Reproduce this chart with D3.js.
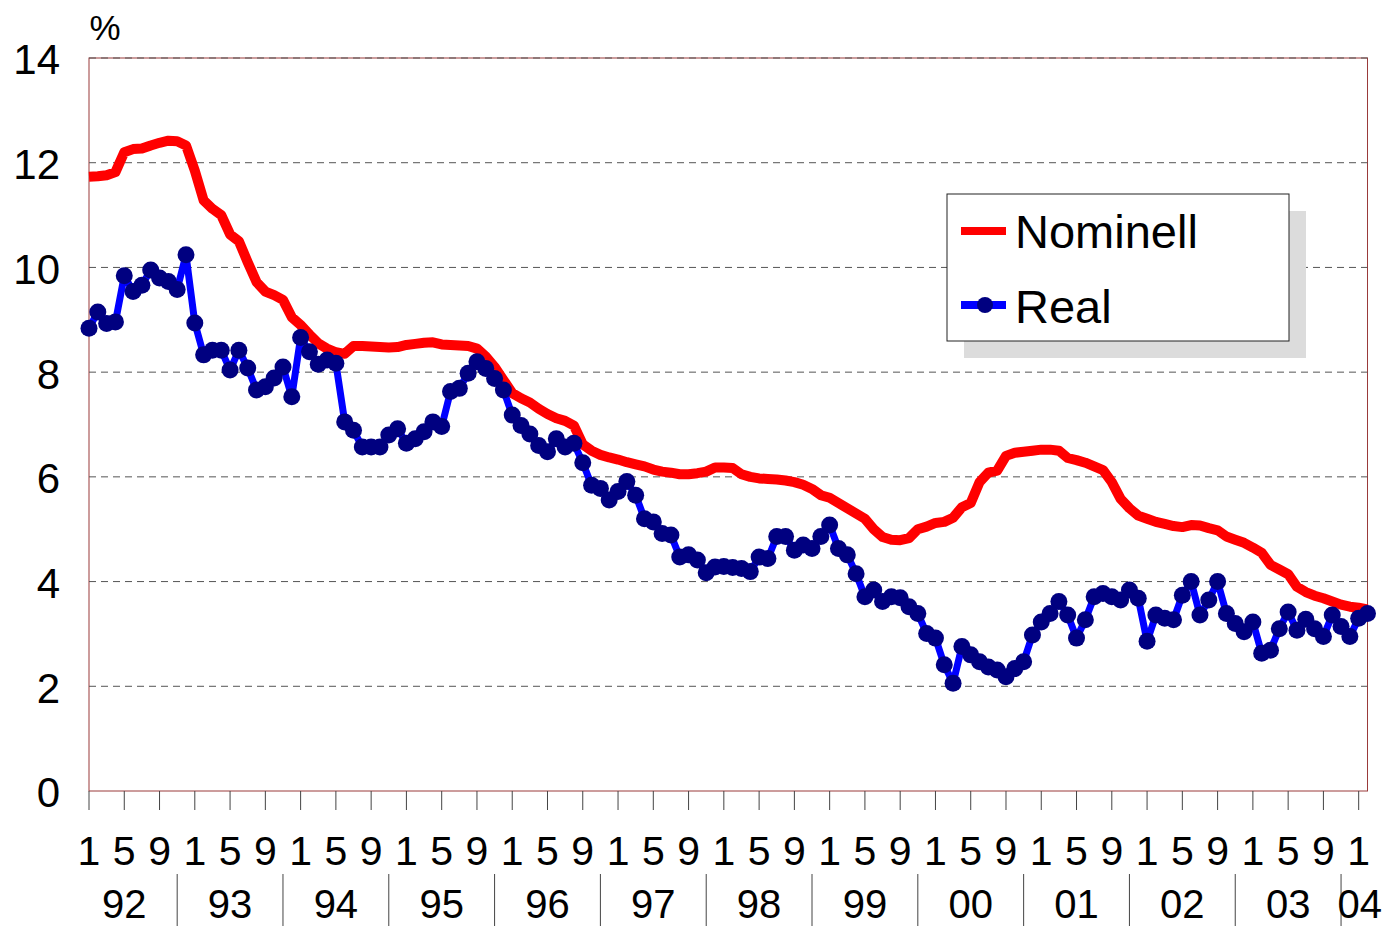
<!DOCTYPE html>
<html>
<head>
<meta charset="utf-8">
<script src="https://cdn.jsdelivr.net/npm/d3@7"></script>
<style>
  body { margin: 0; background: #fff; }
  svg text { font-family: "Liberation Sans", Arial, sans-serif; fill: #000; }
</style>
</head>
<body>
<svg id="chart" width="1386" height="926"></svg>
<script>
// monthly, Jan 1992 .. Feb 2004
const nominell = [
  11.73, 11.74, 11.76, 11.82, 12.2, 12.26, 12.27, 12.33, 12.38, 12.42, 12.41, 12.33,
  11.85, 11.28, 11.12, 11.0, 10.63, 10.5, 10.1, 9.72, 9.54, 9.47, 9.38, 9.05,
  8.9, 8.72, 8.55, 8.45, 8.38, 8.35, 8.5, 8.5, 8.49, 8.48, 8.47, 8.48,
  8.52, 8.54, 8.56, 8.57, 8.53, 8.52, 8.51, 8.5, 8.45, 8.3, 8.1, 7.85,
  7.6, 7.5, 7.42, 7.3, 7.2, 7.12, 7.07, 6.98, 6.62, 6.5, 6.42, 6.37,
  6.33, 6.28, 6.24, 6.2, 6.14, 6.1, 6.08, 6.05, 6.05, 6.07, 6.1, 6.18,
  6.18, 6.17, 6.05, 6.0, 5.97, 5.96, 5.95, 5.93, 5.9, 5.85, 5.77, 5.65,
  5.6, 5.5, 5.4, 5.3, 5.2, 5.0, 4.85, 4.8, 4.79, 4.83, 5.0, 5.05,
  5.12, 5.14, 5.22, 5.42, 5.5, 5.9, 6.08, 6.12, 6.4, 6.46, 6.48, 6.5,
  6.52, 6.52, 6.5, 6.36, 6.32, 6.27, 6.2, 6.13, 5.9, 5.58, 5.4, 5.26,
  5.2, 5.14, 5.1, 5.06, 5.04, 5.08, 5.07, 5.02, 4.98, 4.86, 4.8, 4.74,
  4.65, 4.55, 4.32, 4.23, 4.14, 3.9, 3.8, 3.73, 3.68, 3.62, 3.56, 3.52,
  3.5, 3.47
];
const real = [
  8.84, 9.15, 8.93, 8.96, 9.84, 9.54, 9.66, 9.95, 9.8, 9.73, 9.58, 10.24,
  8.94, 8.33, 8.42, 8.42, 8.04, 8.42, 8.08, 7.66, 7.72, 7.89, 8.1, 7.53,
  8.66, 8.39, 8.15, 8.23, 8.17, 7.05, 6.89, 6.57, 6.57, 6.57, 6.8, 6.92,
  6.64, 6.73, 6.86, 7.05, 6.96, 7.63, 7.69, 7.98, 8.2, 8.07, 7.88, 7.66,
  7.18, 6.98, 6.82, 6.6, 6.48, 6.73, 6.57, 6.64, 6.27, 5.84, 5.78, 5.56,
  5.72, 5.91, 5.65, 5.2, 5.14, 4.92, 4.89, 4.47, 4.51, 4.41, 4.17, 4.28,
  4.29, 4.27, 4.25, 4.19, 4.47, 4.44, 4.86, 4.86, 4.6, 4.7, 4.63, 4.86,
  5.08, 4.63, 4.51, 4.15, 3.71, 3.84, 3.62, 3.71, 3.69, 3.52, 3.39, 3.01,
  2.92, 2.41, 2.06, 2.76, 2.6, 2.47, 2.37, 2.31, 2.18, 2.34, 2.47, 2.98,
  3.23, 3.39, 3.62, 3.36, 2.92, 3.27, 3.71, 3.77, 3.71, 3.65, 3.84, 3.68,
  2.86, 3.36, 3.3, 3.27, 3.74, 4.0, 3.36, 3.65, 4.0, 3.39, 3.2, 3.04,
  3.23, 2.63, 2.69, 3.1, 3.42, 3.07, 3.28, 3.1, 2.95, 3.36, 3.14, 2.95,
  3.3, 3.39
];
const years = ["92", "93", "94", "95", "96", "97", "98", "99", "00", "01", "02", "03", "04"];
const monthLabels = ["1", "5", "9"];
const yTicks = [0, 2, 4, 6, 8, 10, 12, 14];
const seriesNames = ["Nominell", "Real"];

const svg = d3.select("#chart");
const plotLeft = 89, plotRight = 1367.5, plotTop = 58, plotBottom = 791;

const x = d3.scaleLinear().domain([0, nominell.length - 1]).range([plotLeft, plotRight]);
const y = d3.scaleLinear().domain([0, 14]).range([plotBottom, plotTop]);

// plot frame
svg.append("rect")
  .attr("x", plotLeft).attr("y", plotTop)
  .attr("width", plotRight - plotLeft).attr("height", plotBottom - plotTop)
  .attr("fill", "none").attr("stroke", "#9a3a3a").attr("stroke-width", 1);

// dashed grid
svg.append("g").selectAll("line")
  .data(yTicks.filter(d => d > 0))
  .join("line")
  .attr("x1", plotLeft).attr("x2", plotRight)
  .attr("y1", d => y(d)).attr("y2", d => y(d))
  .attr("stroke", "#555").attr("stroke-width", 1)
  .attr("stroke-dasharray", "7,5");

// y axis labels
const yAxis = d3.axisLeft(y).tickValues(yTicks).tickSize(0).tickPadding(29);
svg.append("g")
  .attr("transform", `translate(${plotLeft},0)`)
  .call(yAxis)
  .call(g => g.select(".domain").remove())
  .call(g => g.selectAll("text")
    .style("font-size", "42px")
    .attr("font-family", "Liberation Sans, Arial, sans-serif")
    .attr("dy", "0.38em"));

svg.append("text")
  .attr("x", 105).attr("y", 40)
  .attr("text-anchor", "middle")
  .style("font-size", "35px")
  .text("%");

// x ticks every 4 months
const tickIdx = d3.range(0, nominell.length, 4);
svg.append("g").selectAll("line")
  .data(tickIdx)
  .join("line")
  .attr("x1", d => x(d)).attr("x2", d => x(d))
  .attr("y1", plotBottom).attr("y2", 810)
  .attr("stroke", "#444").attr("stroke-width", 1);

svg.append("g").selectAll("text")
  .data(tickIdx)
  .join("text")
  .attr("x", d => x(d)).attr("y", 865)
  .attr("text-anchor", "middle")
  .style("font-size", "41px")
  .text(d => monthLabels[(d % 12) / 4]);

// year separators and labels
const sepIdx = d3.range(10, nominell.length, 12);
svg.append("g").selectAll("line")
  .data(sepIdx)
  .join("line")
  .attr("x1", d => x(d)).attr("x2", d => x(d))
  .attr("y1", 874).attr("y2", 926)
  .attr("stroke", "#444").attr("stroke-width", 1);

svg.append("g").selectAll("text")
  .data(years)
  .join("text")
  .attr("x", (d, i) => i < years.length - 1 ? x(i * 12 + 4) : x(i * 12) + 1)
  .attr("y", 918)
  .attr("text-anchor", "middle")
  .style("font-size", "40px")
  .text(d => d);

// series
const line = d3.line().x((d, i) => x(i)).y(d => y(d));

svg.append("path")
  .datum(nominell)
  .attr("d", line)
  .attr("fill", "none").attr("stroke", "#ff0000")
  .attr("stroke-width", 10).attr("stroke-linejoin", "round");

svg.append("path")
  .datum(real)
  .attr("d", line)
  .attr("fill", "none").attr("stroke", "#0000ff")
  .attr("stroke-width", 7).attr("stroke-linejoin", "round");

svg.append("g").selectAll("circle")
  .data(real)
  .join("circle")
  .attr("cx", (d, i) => x(i)).attr("cy", d => y(d))
  .attr("r", 8.5).attr("fill", "#000080");

// legend
const lg = svg.append("g").attr("transform", "translate(947,194)");
lg.append("rect").attr("x", 17).attr("y", 17).attr("width", 342).attr("height", 147).attr("fill", "#dcdcdc");
lg.append("rect").attr("x", 0).attr("y", 0).attr("width", 342).attr("height", 147)
  .attr("fill", "#fff").attr("stroke", "#222").attr("stroke-width", 1);

lg.append("line").attr("x1", 14).attr("x2", 59).attr("y1", 37).attr("y2", 37)
  .attr("stroke", "#ff0000").attr("stroke-width", 8);
lg.append("line").attr("x1", 14).attr("x2", 59).attr("y1", 111).attr("y2", 111)
  .attr("stroke", "#0000ff").attr("stroke-width", 8);
lg.append("circle").attr("cx", 38).attr("cy", 111).attr("r", 8).attr("fill", "#000080");

lg.selectAll("text.leg")
  .data(seriesNames)
  .join("text")
  .attr("class", "leg")
  .attr("x", 68).attr("y", (d, i) => 54 + i * 75)
  .style("font-size", "47px")
  .text(d => d);
</script>
</body>
</html>
